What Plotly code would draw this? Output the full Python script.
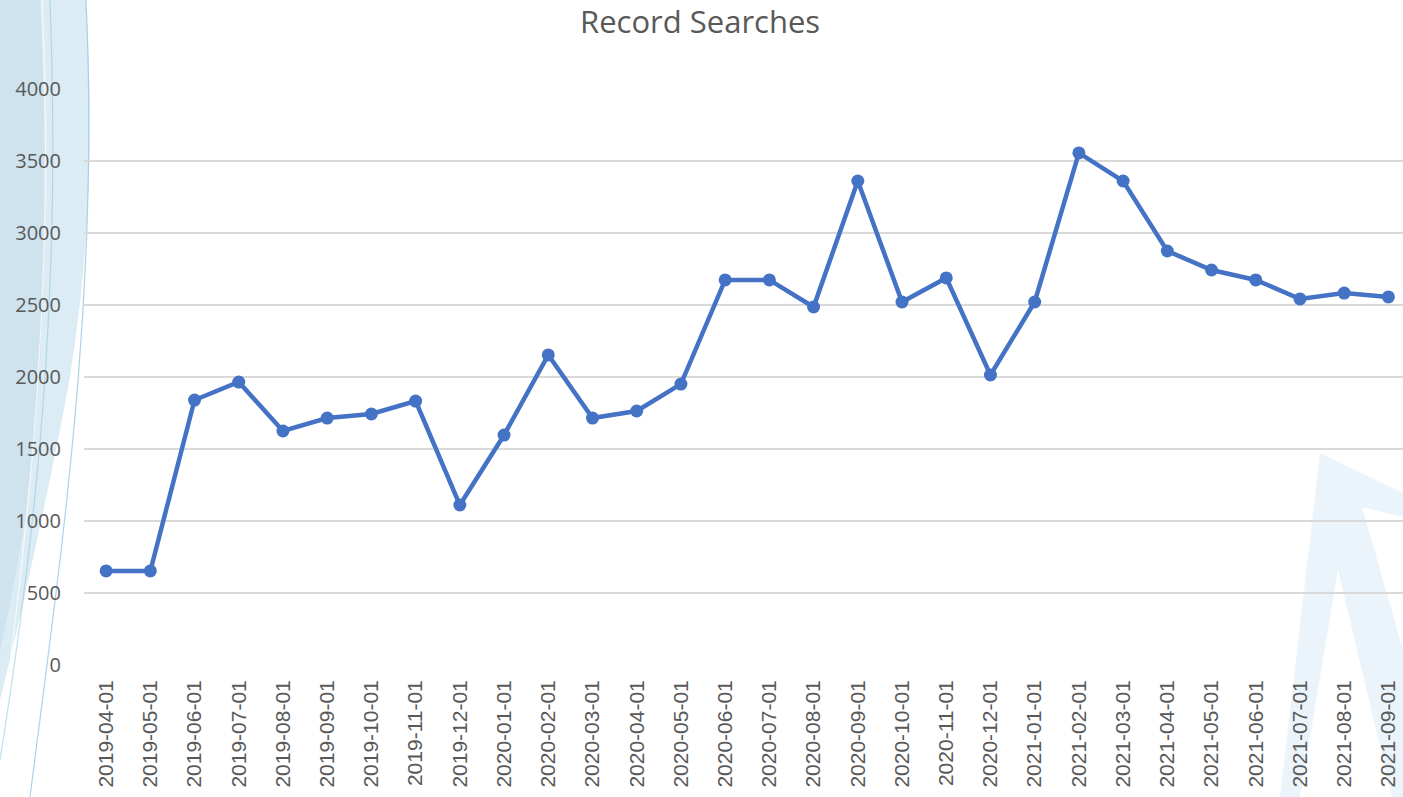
import plotly.graph_objects as go

months = ["2019-04-01", "2019-05-01", "2019-06-01", "2019-07-01", "2019-08-01", "2019-09-01",
          "2019-10-01", "2019-11-01", "2019-12-01", "2020-01-01", "2020-02-01", "2020-03-01",
          "2020-04-01", "2020-05-01", "2020-06-01", "2020-07-01", "2020-08-01", "2020-09-01",
          "2020-10-01", "2020-11-01", "2020-12-01", "2021-01-01", "2021-02-01", "2021-03-01",
          "2021-04-01", "2021-05-01", "2021-06-01", "2021-07-01", "2021-08-01", "2021-09-01"]
searches = [653, 653, 1840, 1965, 1625, 1715, 1743, 1833, 1111, 1597, 2153, 1715,
            1764, 1951, 2674, 2674, 2486, 3361, 2521, 2688, 2014, 2521, 3556, 3361,
            2875, 2743, 2674, 2542, 2583, 2556]
y_ticks = [0, 500, 1000, 1500, 2000, 2500, 3000, 3500, 4000]

W, H = 1403, 797
L, R, T, B = 84, 0, 89, 132
PW, PH = W - L - R, H - T - B


def pp(px, py):
    return f"{(px - L) / PW:.5f},{(H - B - py) / PH:.5f}"


fig = go.Figure()
fig.add_trace(go.Scatter(
    x=months, y=searches, mode="lines+markers",
    line=dict(color="#4472C4", width=4.5),
    marker=dict(color="#4472C4", size=13),
    name="Record Searches", showlegend=False, cliponaxis=False,
))

shapes = []
# left decorative swoosh band
band = "M" + pp(0, 0) + " L" + pp(86, 0) + " Q" + pp(100, 230) + " " + pp(62, 420) + \
       " Q" + pp(30, 580) + " " + pp(0, 700) + " Z"
shapes.append(dict(type="path", xref="paper", yref="paper", path=band,
                   fillcolor="rgba(205,228,240,0.7)", line=dict(width=0), layer="below"))
band2 = "M" + pp(0, 0) + " L" + pp(40, 0) + " Q" + pp(55, 300) + " " + pp(25, 520) + \
        " Q" + pp(12, 600) + " " + pp(0, 650) + " Z"
shapes.append(dict(type="path", xref="paper", yref="paper", path=band2,
                   fillcolor="rgba(190,218,233,0.45)", line=dict(width=0), layer="below"))
for (a, b, c, d, col) in [((86, 0), (100, 300), (60, 560), (30, 797), "rgba(150,200,225,0.8)"),
                          ((50, 0), (62, 300), (35, 540), (0, 760), "rgba(150,200,225,0.6)"),
                          ((42, 0), (55, 280), (30, 520), (0, 740), "rgba(255,255,255,0.7)")]:
    p = "M" + pp(*a) + " C" + pp(*b) + " " + pp(*c) + " " + pp(*d)
    shapes.append(dict(type="path", xref="paper", yref="paper", path=p,
                       line=dict(color=col, width=1.2), layer="below"))
# right decorative arrow
arrow = "M" + " L".join(pp(*q) for q in [(1280, 797), (1320, 453), (1403, 493), (1403, 517),
                                          (1362, 507), (1403, 650), (1403, 797), (1392, 797),
                                          (1338, 570), (1300, 797)]) + " Z"
shapes.append(dict(type="path", xref="paper", yref="paper", path=arrow,
                   fillcolor="rgba(228,240,248,0.75)", line=dict(width=0), layer="below"))

fig.update_layout(
    width=W, height=H,
    margin=dict(l=L, r=R, t=T, b=B, pad=0),
    paper_bgcolor="white", plot_bgcolor="white",
    title=dict(text="Record Searches", x=0.499, xanchor="center", y=1 - 22 / H, yanchor="middle",
               font=dict(family="Open Sans", size=31, color="#595959")),
    shapes=shapes,
    xaxis=dict(type="category", range=[-0.5, 29.33], tickangle=-90, showgrid=False,
               showline=False, zeroline=False, ticks="", ticklabelstandoff=10,
               tickfont=dict(family="Liberation Sans", size=21, color="#595959")),
    yaxis=dict(range=[0, 4000], tickvals=y_ticks, showgrid=True, gridcolor="#d9d9d9",
               gridwidth=1.5, zeroline=False, showline=False, ticks="", ticklabelstandoff=22,
               tickfont=dict(family="Open Sans", size=20, color="#595959")),
)

fig.write_html("out.html", config={"displayModeBar": False},
               post_script="document.body.style.margin='0px';document.body.style.overflow='hidden';")
